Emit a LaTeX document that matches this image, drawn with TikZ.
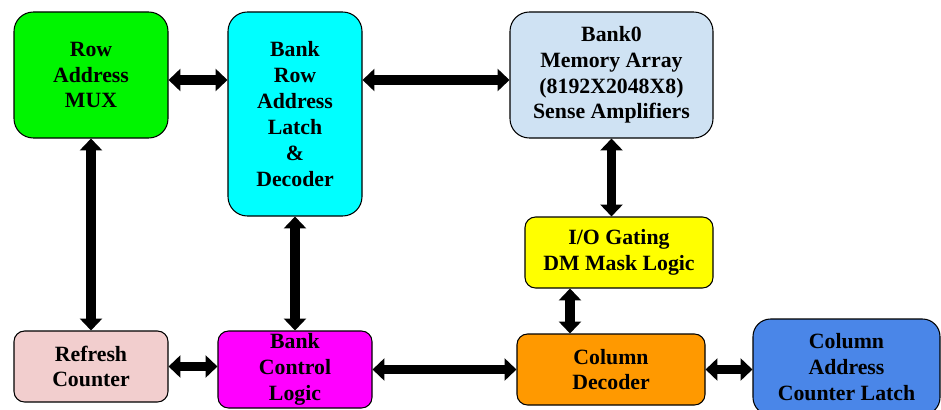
\documentclass[tikz,border=0pt]{standalone}
\usepackage{fontspec}
\setmainfont{Liberation Serif}
\usepackage{xcolor}
\definecolor{muxgreen}{RGB}{0,245,0}
\definecolor{latchcyan}{RGB}{0,255,255}
\definecolor{banklblue}{RGB}{207,226,243}
\definecolor{ioyellow}{RGB}{255,255,0}
\definecolor{refpink}{RGB}{242,206,206}
\definecolor{ctrlmag}{RGB}{255,0,255}
\definecolor{decorange}{RGB}{255,153,0}
\definecolor{caddrblue}{RGB}{74,134,232}
\usepackage{tikz}
\usetikzlibrary{arrows.meta, positioning, calc}

\begin{document}
\begin{tikzpicture}[
    every node/.style={font=\fontsize{12.4}{14.7}\selectfont\bfseries},
    blk/.style={draw=black, line width=0.6pt, rounded corners=10pt,
                align=center, inner sep=0pt},
    bigblk/.style={blk, rounded corners=11pt},
    smallblk/.style={blk, rounded corners=6pt},
    biarr/.style={{Triangle[length=6.8pt, width=12.5pt]}-{Triangle[length=6.8pt, width=12.5pt]},
                  line width=5.6pt, black},
]
\useasboundingbox (0,0) rectangle (18.82,-8.2);

% ===== top row =====
\node[bigblk, fill=muxgreen, minimum width=3.08cm, minimum height=2.52cm] (rowmux)
      at (1.82,-1.50) {Row\\Address\\MUX};
\node[bigblk, fill=latchcyan, minimum width=2.68cm, minimum height=4.08cm] (latch)
      at (5.90,-2.28) {Bank\\Row\\Address\\Latch\\\&\\Decoder};
\node[bigblk, fill=banklblue, minimum width=4.06cm, minimum height=2.52cm] (bank)
      at (12.23,-1.50) {Bank0\\Memory Array\\(8192X2048X8)\\Sense Amplifiers};

% ===== middle =====
\node[smallblk, fill=ioyellow, minimum width=3.76cm, minimum height=1.42cm] (iogate)
      at (12.38,-5.05) {I/O Gating\\DM Mask Logic};

% ===== bottom row =====
\node[smallblk, fill=refpink, minimum width=3.08cm, minimum height=1.42cm] (refresh)
      at (1.82,-7.33) {Refresh\\Counter};
\node[smallblk, fill=ctrlmag, minimum width=3.08cm, minimum height=1.54cm] (ctrl)
      at (5.90,-7.39) {Bank\\Control\\Logic};
\node[smallblk, fill=decorange, minimum width=3.76cm, minimum height=1.42cm] (coldec)
      at (12.22,-7.39) {Column\\Decoder};
\node[blk, fill=caddrblue, minimum width=3.74cm, minimum height=1.92cm] (caddr)
      at (16.93,-7.34) {Column\\Address\\Counter Latch};

% connections
\draw[biarr] (rowmux.east |- 0,-1.60) -- (latch.west |- 0,-1.60);
\draw[biarr] (latch.east |- 0,-1.60) -- (bank.west |- 0,-1.60);
\draw[biarr] (rowmux.south) -- (refresh.north);
\draw[biarr] (latch.south) -- (ctrl.north);
\draw[biarr] (bank.south) -- (bank.south |- iogate.north);
\draw[biarr] (iogate.south -| 11.40,0) -- (coldec.north -| 11.40,0);
\draw[biarr] (refresh.east) -- (refresh.east -| ctrl.west);
\draw[biarr] (ctrl.east) -- (ctrl.east -| coldec.west);
\draw[biarr] (coldec.east) -- (coldec.east -| caddr.west);

\end{tikzpicture}
\end{document}
